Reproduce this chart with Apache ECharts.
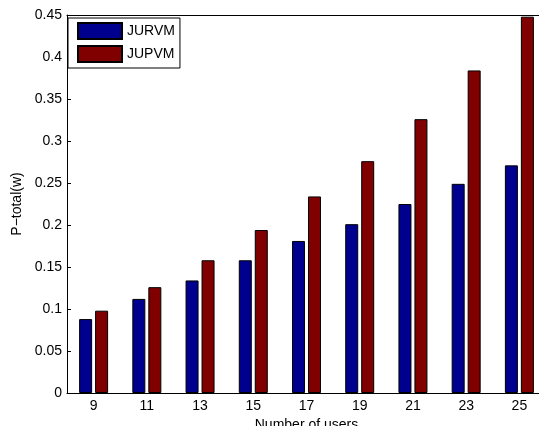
<!DOCTYPE html>
<html>
<head>
<meta charset="utf-8">
<script src="https://cdn.jsdelivr.net/npm/echarts@6/dist/echarts.min.js"></script>
<style>
html,body{margin:0;padding:0;background:#fff;}
#chart{width:539px;height:426px;}
</style>
</head>
<body>
<div id="chart"></div>
<script>
var categories = ['9','11','13','15','17','19','21','23','25'];
var jurvm = [0.088, 0.112, 0.134, 0.158, 0.181, 0.201, 0.225, 0.249, 0.271];
var jupvm = [0.098, 0.126, 0.158, 0.194, 0.234, 0.276, 0.326, 0.384, 0.448];
var yTicks = ['0','0.05','0.1','0.15','0.2','0.25','0.3','0.35','0.4','0.45'];

var FONT = '"Liberation Sans", Arial, Helvetica, sans-serif';
var chart = echarts.init(document.getElementById('chart'), null, {renderer:'canvas'});
chart.setOption({
  animation: false,
  backgroundColor: '#ffffff',
  textStyle: {fontFamily: FONT},
  grid: {left: 67, top: 15, width: 479, bottom: 33, containLabel: false, outerBoundsMode: 'none'},
  legend: {
    orient: 'vertical', left: 68, top: 18,
    padding: [4, 5, 5, 9],
    itemWidth: 44, itemHeight: 16, itemGap: 5,
    icon: 'rect',
    borderColor: '#000', borderWidth: 1, backgroundColor: '#fff',
    textStyle: {fontFamily: FONT, fontSize: 14, color: '#000'},
    data: ['JURVM', 'JUPVM']
  },
  xAxis: [{
    type: 'category', data: categories, position: 'bottom',
    name: 'Number of users', nameLocation: 'middle', nameGap: 23,
    nameTextStyle: {fontFamily: FONT, fontSize: 14, color: '#000'},
    axisLine: {lineStyle: {color: '#000', width: 1}},
    axisTick: {inside: true, length: 4, alignWithLabel: true, lineStyle: {color: '#000'}},
    axisLabel: {fontFamily: FONT, fontSize: 14, color: '#000', margin: 6},
    splitLine: {show: false}
  }, {
    type: 'category', data: categories, position: 'top',
    axisLine: {lineStyle: {color: '#000', width: 1}},
    axisTick: {inside: true, length: 4, alignWithLabel: true, lineStyle: {color: '#000'}},
    axisLabel: {show: false},
    splitLine: {show: false}
  }],
  yAxis: {
    type: 'value', min: 0, max: 0.45, interval: 0.05,
    name: 'P\u2212total(w)', nameLocation: 'middle', nameGap: 38,
    nameTextStyle: {fontFamily: FONT, fontSize: 14, color: '#000'},
    axisLine: {show: true, lineStyle: {color: '#000', width: 1}},
    axisTick: {show: true, inside: true, length: 4, lineStyle: {color: '#000'}},
    axisLabel: {fontFamily: FONT, fontSize: 14, color: '#000', margin: 5,
      formatter: function (v) { var i = Math.round(v / 0.05); return yTicks[i]; }},
    splitLine: {show: false}
  },
  series: [{
    name: 'JURVM', type: 'bar', data: jurvm, xAxisIndex: 0,
    barWidth: 13, barGap: '23%',
    itemStyle: {color: '#00008F', borderColor: '#000', borderWidth: 1}
  }, {
    name: 'JUPVM', type: 'bar', data: jupvm, xAxisIndex: 0,
    barWidth: 13, barGap: '23%',
    itemStyle: {color: '#800000', borderColor: '#000', borderWidth: 1}
  }]
});
</script>
</body>
</html>
